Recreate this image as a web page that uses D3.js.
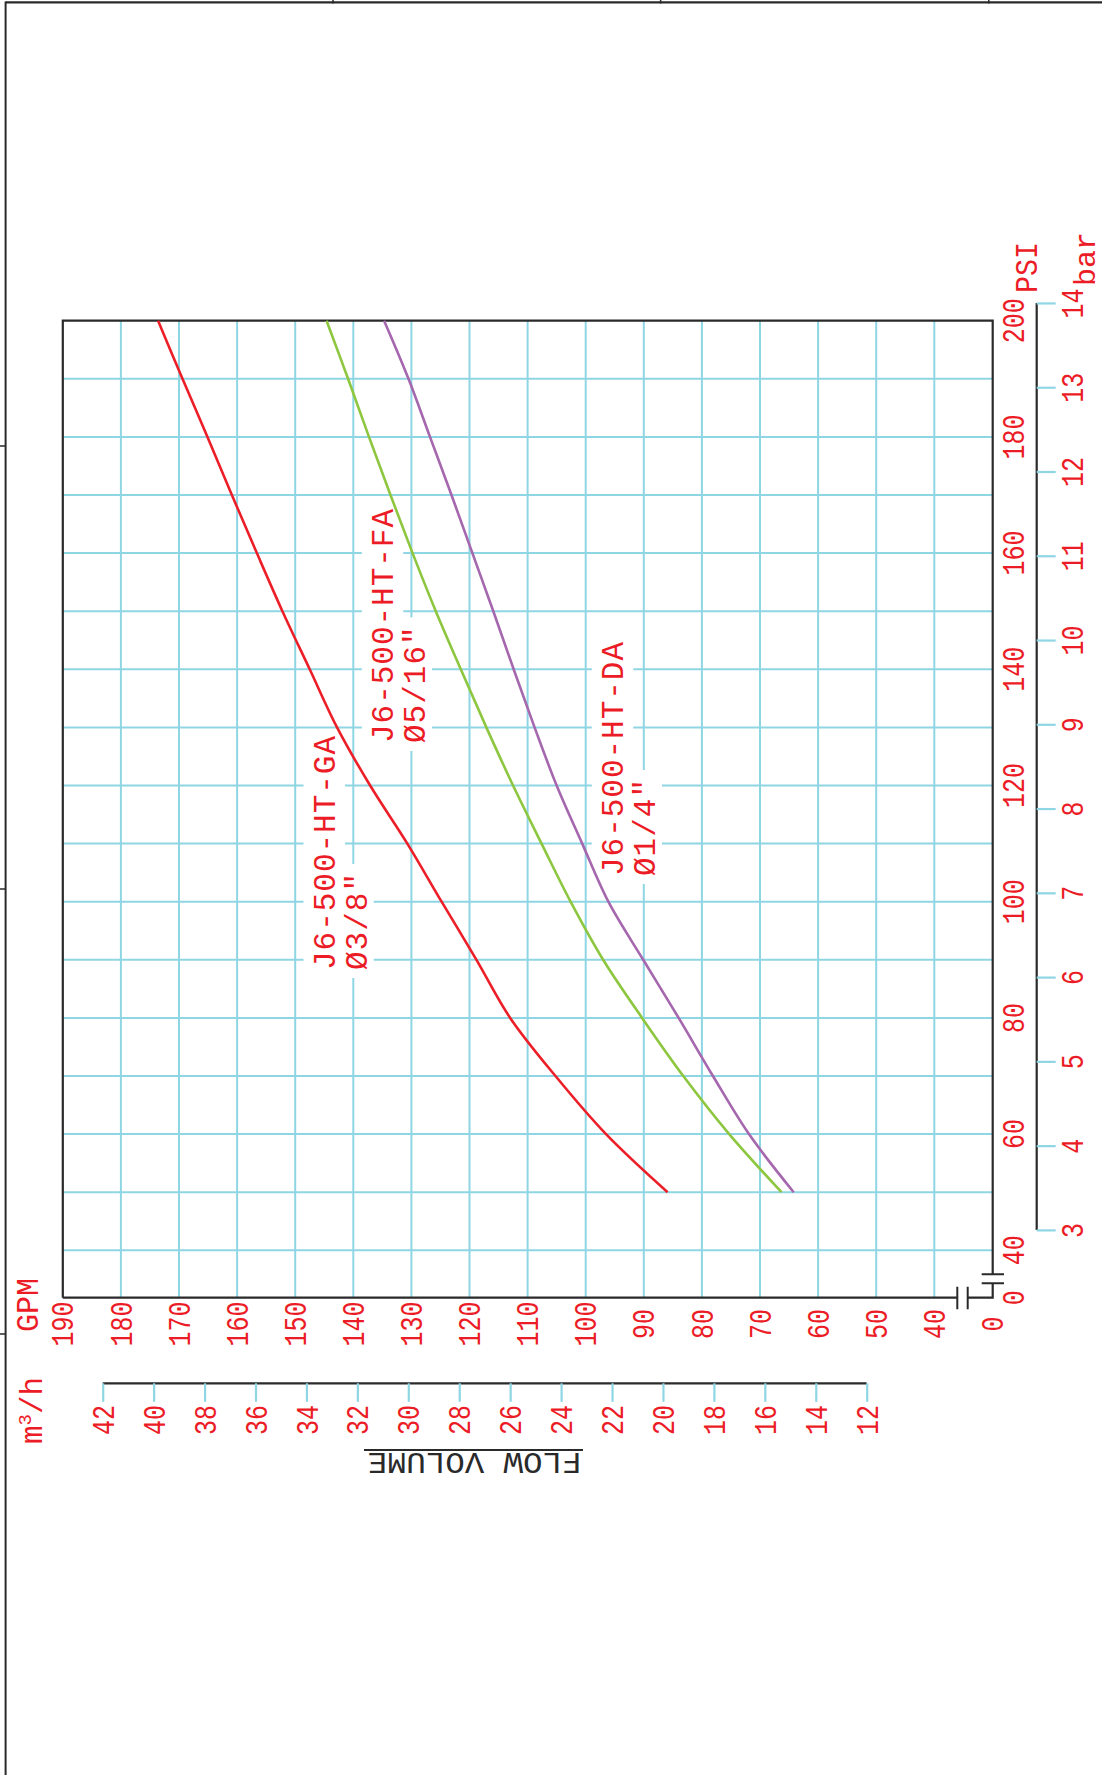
<!DOCTYPE html>
<html>
<head>
<meta charset="utf-8">
<script src="https://cdn.jsdelivr.net/npm/d3@7"></script>
<style>
  html, body { margin: 0; padding: 0; background: #ffffff; }
  svg { display: block; }
</style>
</head>
<body>
<svg id="chart" width="1102" height="1775"></svg>
<script>
// ---- data -------------------------------------------------------------
const pressurePsi = [50, 60, 70, 80, 90, 100, 110, 120, 130, 140, 150, 160, 170, 180, 190, 200];
const flowGA = [85.9, 96.5, 105.2, 113.0, 118.8, 124.8, 130.7, 137.1, 142.8, 147.5, 152.2, 156.6, 160.9, 165.1, 169.4, 173.6];
const flowFA = [66.3, 75.3, 83.2, 90.3, 97.0, 102.6, 107.6, 112.5, 117.1, 121.5, 125.8, 129.8, 133.6, 137.3, 140.9, 144.6];
const flowDA = [64.2, 71.9, 78.1, 84.0, 90.1, 96.1, 100.6, 105.0, 108.8, 112.4, 115.9, 119.5, 123.1, 126.8, 130.5, 134.7];

const seriesNames = ["J6-500-HT-GA", "J6-500-HT-FA", "J6-500-HT-DA"];
const nozzleSizes = ["\u00D83/8\u2033", "\u00D85/16\u2033", "\u00D81/4\u2033"];

const psiGridValues = [190, 180, 170, 160, 150, 140, 130, 120, 110, 100, 90, 80, 70, 60, 50, 40];
const psiTickLabels = [200, 180, 160, 140, 120, 100, 80, 60, 40];
const gpmGridValues = [180, 170, 160, 150, 140, 130, 120, 110, 100, 90, 80, 70, 60, 50, 40];
const gpmTickLabels = [190, 180, 170, 160, 150, 140, 130, 120, 110, 100, 90, 80, 70, 60, 50, 40];
const barTicks = [3, 4, 5, 6, 7, 8, 9, 10, 11, 12, 13, 14];
const m3hTicks = [42, 40, 38, 36, 34, 32, 30, 28, 26, 24, 22, 20, 18, 16, 14, 12];
const PSI_PER_BAR = 14.5038;

// ---- styling ------------------------------------------------------------
const RED = "#ec1c27";
const GRID = "#8fd6e4";
const INK = "#2a2a2a";
const FONT = "'Liberation Mono', 'DejaVu Sans Mono', monospace";
const seriesColors = ["#ec1f28", "#8dc63f", "#a567ad"];

// ---- layout (the chart is drawn turned on its side) -----------------------
const frame = { left: 62.8, top: 320.7, right: 992.7, bottom: 1297.7 };

const yPsi = d3.scaleLinear().domain([40, 200]).range([1250.3, 320.7]);
const xGpm = d3.scaleLinear().domain([190, 40]).range([62.8, 934.3]);
const yBar = d3.scaleLinear().domain([3, 14]).range([yPsi(3 * PSI_PER_BAR), yPsi(14 * PSI_PER_BAR)]);
const xM3h = d3.scaleLinear().domain([42, 12]).range([102.7, 866.7]);

const svg = d3.select("#chart");

// sheet border with its margin marks
const border = svg.append("g").attr("stroke", INK).attr("fill", "none");
border.append("line").attr("x1", 5.6).attr("x2", 1102).attr("y1", 2.4).attr("y2", 2.4).attr("stroke-width", 2.4);
border.append("line").attr("x1", 5.6).attr("x2", 5.6).attr("y1", 1.5).attr("y2", 1775).attr("stroke-width", 2);
[333, 660.6, 988.8].forEach(x =>
  border.append("line").attr("x1", x).attr("x2", x).attr("y1", 0).attr("y2", 3.5).attr("stroke-width", 1.5));
[446, 889, 1334].forEach(y =>
  border.append("line").attr("x1", 0).attr("x2", 5.6).attr("y1", y).attr("y2", y).attr("stroke-width", 1.5));

// grid
const grid = svg.append("g").attr("stroke", GRID).attr("stroke-width", 2);
grid.selectAll("line.h").data(psiGridValues).join("line").attr("class", "h")
  .attr("x1", frame.left).attr("x2", frame.right)
  .attr("y1", d => yPsi(d)).attr("y2", d => yPsi(d));
grid.selectAll("line.v").data(gpmGridValues).join("line").attr("class", "v")
  .attr("x1", d => xGpm(d)).attr("x2", d => xGpm(d))
  .attr("y1", frame.top).attr("y2", frame.bottom);

// white panels behind the curve labels
const panelLayer = svg.append("g");

// frame with the broken-axis marks at the origin corner
const fr = svg.append("g").attr("stroke", INK).attr("stroke-width", 2.2).attr("fill", "none");
fr.append("path").attr("d",
  `M${frame.left},${frame.bottom}V${frame.top}H${frame.right}V1274.3` +
  `M${frame.right},1283.3V${frame.bottom}H967.7` +
  `M957.3,${frame.bottom}H${frame.left}`);
fr.append("path").attr("stroke-width", 2)
  .attr("d", `M957.3,1286.7V1309.3M967.7,1286.7V1309.3M981.7,1274.3H1004M981.7,1283.3H1004`);

// curves
const line = d3.line()
  .x(d => xGpm(d[1]))
  .y(d => yPsi(d[0]))
  .curve(d3.curveCatmullRom.alpha(0.5));
[flowGA, flowFA, flowDA].forEach((flow, i) => {
  svg.append("path")
    .datum(pressurePsi.map((p, k) => [p, flow[k]]))
    .attr("fill", "none")
    .attr("stroke", seriesColors[i])
    .attr("stroke-width", 2.6)
    .attr("stroke-linejoin", "round")
    .attr("d", line);
});

// text helpers
const txt = svg.append("g").attr("font-family", FONT).attr("fill", RED);

function upText(parent, s, baselineX, y, anchor, size, len) {
  const t = parent.append("text")
    .attr("transform", `translate(${baselineX},${y}) rotate(-90)`)
    .attr("text-anchor", anchor)
    .attr("font-size", size)
    .text(s);
  if (len) t.attr("textLength", len).attr("lengthAdjust", "spacingAndGlyphs");
  return t;
}
const DIG = 15; // advance of one tick digit
const TSIZE = 31;

// pressure labels (PSI) right of the frame
psiTickLabels.forEach(v => upText(txt, String(v), 1023.5, yPsi(v), "middle", TSIZE, String(v).length * DIG));
upText(txt, "0", 1023.5, frame.bottom, "middle", TSIZE, DIG);
upText(txt, "PSI", 1036.5, 267.5, "middle", TSIZE, 3 * 17);

// bar axis
const barAxis = svg.append("g").attr("transform", "translate(1036.7,0)")
  .call(d3.axisRight(yBar).tickValues(barTicks).tickSize(19).tickFormat(d3.format("d")));
barAxis.select(".domain").attr("stroke", INK).attr("stroke-width", 2.2)
  .attr("d", `M0,${yBar(14)}V${yBar(3)}`);
barAxis.selectAll(".tick line").attr("stroke", GRID).attr("stroke-width", 2.2);
barAxis.selectAll(".tick text")
  .attr("fill", RED).attr("font-family", FONT).attr("font-size", TSIZE)
  .attr("x", 0).attr("dy", null).attr("y", 0)
  .attr("text-anchor", "middle")
  .attr("transform", "translate(46,0) rotate(-90)")
  .attr("textLength", d => String(d).length * DIG)
  .attr("lengthAdjust", "spacingAndGlyphs");
upText(txt, "bar", 1094.5, 259, "middle", 29, 3 * 18);

// flow labels (GPM) under the frame
gpmTickLabels.forEach(v => upText(txt, String(v), xGpm(v) + 10.6, 1324, "middle", TSIZE, String(v).length * DIG));
upText(txt, "0", frame.right + 10.6, 1324, "middle", TSIZE, DIG);
upText(txt, "GPM", 38.3, 1305, "middle", TSIZE, 3 * 18);

// m3/h axis
const m3Axis = svg.append("g").attr("transform", "translate(0,1383.3)")
  .call(d3.axisBottom(xM3h).tickValues(m3hTicks).tickSize(18.5).tickFormat(d3.format("d")));
m3Axis.select(".domain").attr("stroke", INK).attr("stroke-width", 2.2)
  .attr("d", `M${xM3h(42)},0H${xM3h(12)}`);
m3Axis.selectAll(".tick line").attr("stroke", GRID).attr("stroke-width", 2.2);
m3Axis.selectAll(".tick text")
  .attr("fill", RED).attr("font-family", FONT).attr("font-size", TSIZE)
  .attr("x", 0).attr("dy", null).attr("y", 0)
  .attr("text-anchor", "middle")
  .attr("transform", "translate(10.6,36.7) rotate(-90)")
  .attr("textLength", d => String(d).length * DIG)
  .attr("lengthAdjust", "spacingAndGlyphs");
const unit = txt.append("text")
  .attr("transform", "translate(41.7,1410.5) rotate(-90)")
  .attr("text-anchor", "middle").attr("font-size", TSIZE);
unit.append("tspan").text("m");
unit.append("tspan").attr("font-size", 19).attr("dy", -11).text("3");
unit.append("tspan").attr("dy", 11).text("/h");

// axis title, printed upside down
const title = svg.append("g").attr("font-family", FONT);
title.append("text")
  .attr("transform", "translate(474.5,1452.8) rotate(180)")
  .attr("text-anchor", "middle").attr("font-size", 30).attr("fill", INK)
  .attr("textLength", 214).attr("lengthAdjust", "spacingAndGlyphs")
  .text("FLOW VOLUME");
title.append("line").attr("x1", 364).attr("x2", 583).attr("y1", 1450).attr("y2", 1450)
  .attr("stroke", INK).attr("stroke-width", 1.8);

// curve labels: model name and nozzle size, both starting at the same height
const labelSpots = [
  { bx: 335.0, y: 970 },
  { bx: 393.3, y: 743 },
  { bx: 623.3, y: 876 }
];
labelSpots.forEach((spot, i) => {
  const a = upText(txt, seriesNames[i], spot.bx, spot.y, "start", 31, 234);
  a.attr("lengthAdjust", "spacing");
  const b = upText(txt, nozzleSizes[i], spot.bx + 31.7, spot.y, "start", 31);
  b.attr("letter-spacing", 1);
  const la = a.node().getComputedTextLength();
  const lb = b.node().getComputedTextLength();
  panelLayer.append("rect")
    .attr("x", spot.bx - 31.5).attr("width", 41.5)
    .attr("y", spot.y - la - 8).attr("height", la + 16)
    .attr("fill", "#ffffff");
  panelLayer.append("rect")
    .attr("x", spot.bx + 31.7 - 22).attr("width", 29)
    .attr("y", spot.y - lb - 8).attr("height", lb + 16)
    .attr("fill", "#ffffff");
});
</script>
</body>
</html>
